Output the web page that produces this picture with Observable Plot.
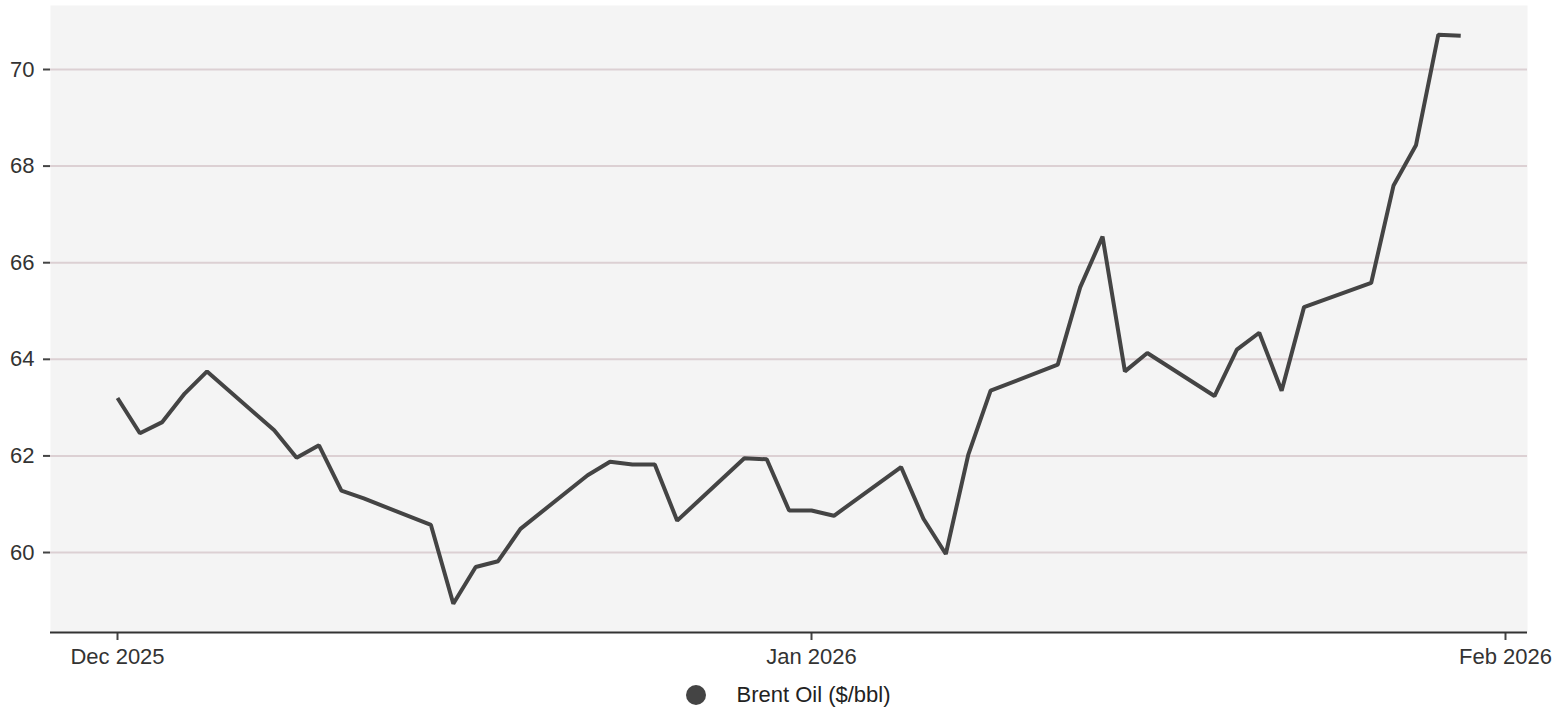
<!DOCTYPE html>
<html>
<head>
<meta charset="utf-8">
<script src="https://cdn.jsdelivr.net/npm/d3@7"></script>
<script src="https://cdn.jsdelivr.net/npm/@observablehq/plot@0.6"></script>
<style>
  html, body { margin: 0; padding: 0; background: #ffffff; }
  #chart { width: 1556px; }
  #legend {
    width: 1556px; box-sizing: border-box; height: 29px;
    padding-left: 50px; padding-right: 29px;
    display: flex; justify-content: center; align-items: center;
    font-family: "Liberation Sans", Arial, sans-serif; font-size: 22px; color: #222;
  }
  #legend .swatch { width: 20px; height: 20px; border-radius: 50%; background: #444444; margin-right: 30px; }
</style>
</head>
<body>
<div id="chart"></div>
<div id="legend"><span class="swatch"></span><span>Brent Oil ($/bbl)</span></div>
<script>
// Brent crude daily settlement, USD per barrel (weekdays)
const dates = [
  "2025-12-01", "2025-12-02", "2025-12-03", "2025-12-04", "2025-12-05",
  "2025-12-08", "2025-12-09", "2025-12-10", "2025-12-11", "2025-12-12",
  "2025-12-15", "2025-12-16", "2025-12-17", "2025-12-18", "2025-12-19",
  "2025-12-22", "2025-12-23", "2025-12-24", "2025-12-25", "2025-12-26",
  "2025-12-29", "2025-12-30", "2025-12-31", "2026-01-01", "2026-01-02",
  "2026-01-05", "2026-01-06", "2026-01-07", "2026-01-08", "2026-01-09",
  "2026-01-12", "2026-01-13", "2026-01-14", "2026-01-15", "2026-01-16",
  "2026-01-19", "2026-01-20", "2026-01-21", "2026-01-22", "2026-01-23",
  "2026-01-26", "2026-01-27", "2026-01-28", "2026-01-29", "2026-01-30"
];
const brent = [
  63.20, 62.47, 62.70, 63.29, 63.75,
  62.53, 61.96, 62.22, 61.28, 61.12,
  60.57, 58.94, 59.70, 59.82, 60.49,
  61.60, 61.88, 61.82, 61.82, 60.66,
  61.95, 61.93, 60.87, 60.87, 60.76,
  61.77, 60.70, 59.97, 62.02, 63.35,
  63.89, 65.49, 66.54, 63.75, 64.13,
  63.24, 64.20, 64.55, 63.35, 65.08,
  65.58, 67.60, 68.43, 70.72, 70.70
];
const yTicks = [60, 62, 64, 66, 68, 70];
const xTicks = ["2025-12-01", "2026-01-01", "2026-02-01"];
const xTickLabels = ["Dec 2025", "Jan 2026", "Feb 2026"];

const data = dates.map((d, i) => ({date: new Date(d + "T00:00Z"), value: brent[i]}));
const xTickDates = xTicks.map(d => new Date(d + "T00:00Z"));
const labelFor = d => xTickLabels[xTickDates.findIndex(t => +t === +d)];

const yMin = 58.344, yMax = 71.325;

const chart = Plot.plot({
  width: 1556,
  height: 680,
  marginLeft: 50,
  marginRight: 29,
  marginTop: 5,
  marginBottom: 48,
  style: {
    fontFamily: "'Liberation Sans', Arial, sans-serif",
    fontSize: "22px",
    color: "#333333",
    background: "#ffffff"
  },
  x: {type: "utc", domain: [new Date("2025-11-28T00:10Z"), new Date("2026-02-01T23:35Z")]},
  y: {domain: [yMin, yMax]},
  marks: [
    Plot.frame({fill: "#f4f4f4", stroke: null}),
    Plot.gridY(yTicks, {stroke: "#dcd0d3", strokeOpacity: 1, strokeWidth: 2}),
    Plot.axisY(yTicks, {tickSize: 7, tickPadding: 9, label: null, stroke: "#444444", strokeWidth: 2}),
    Plot.axisX(xTickDates, {tickSize: 8, tickPadding: 8, label: null, stroke: "#444444", strokeWidth: 2, tickFormat: labelFor}),
    Plot.ruleY([yMin], {stroke: "#333333", strokeWidth: 2}),
    Plot.line(data, {
      x: "date", y: "value",
      stroke: "#444444", strokeWidth: 4,
      strokeLinejoin: "miter", strokeLinecap: "butt"
    })
  ]
});
document.getElementById("chart").appendChild(chart);
</script>
</body>
</html>
